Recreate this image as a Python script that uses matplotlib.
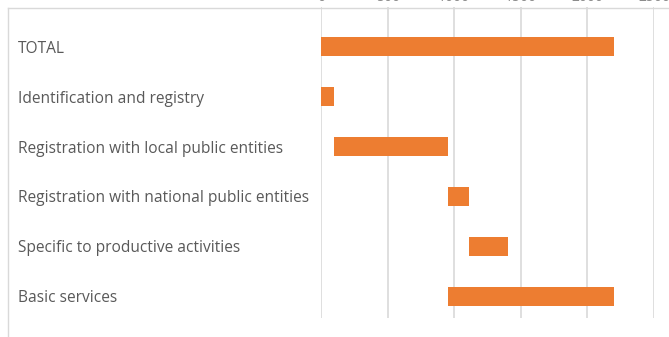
import matplotlib
matplotlib.use("Agg")
import matplotlib.pyplot as plt
from matplotlib.lines import Line2D

# 범주 / 구간 (시작, 끝)
categories = [
    "TOTAL",
    "Identification and registry",
    "Registration with local public entities",
    "Registration with national public entities",
    "Specific to productive activities",
    "Basic services",
]
starts = [0, 0, 100, 950, 1110, 950]
ends = [2200, 100, 950, 1110, 1405, 2200]
xticks = [0, 500, 1000, 1500, 2000, 2500]

plt.rcParams["font.family"] = ["Open Sans", "DejaVu Sans"]

fig = plt.figure(figsize=(6.69, 3.37), dpi=100)
ax = fig.add_axes([321 / 669, 1 - 318 / 337, 333 / 669, 311 / 337])

widths = [e - s for s, e in zip(starts, ends)]
ax.barh(range(len(categories)), widths, left=starts, height=0.38,
        color="#ED7D31", zorder=3)

ax.set_xlim(0, 2500)
ax.set_ylim(5.44, -0.8)
ax.set_xticks(xticks)
ax.set_xticklabels([str(t) for t in xticks], color="#8c8c8c", fontsize=10)
ax.xaxis.tick_top()
ax.tick_params(axis="x", length=0, pad=1.3)
ax.grid(axis="x", color="#d9d9d9", linewidth=1.2, zorder=0)
ax.set_yticks([])
for s in ax.spines.values():
    s.set_visible(False)

# 범주 라벨 (왼쪽 정렬)
for i, c in enumerate(categories):
    fig.text(18 / 669, 1 - (49 + i * 49.8) / 337, c, ha="left", va="center",
             fontsize=11.2, color="#595959")

# 바깥 테두리 (왼쪽, 위)
fig.add_artist(Line2D([8 / 669, 8 / 669], [0, 1 - 8 / 337], color="#d9d9d9",
                      linewidth=1, transform=fig.transFigure))
fig.add_artist(Line2D([8 / 669, 1], [1 - 8 / 337, 1 - 8 / 337], color="#d9d9d9",
                      linewidth=1, transform=fig.transFigure))

fig.savefig("out.png", dpi=100)
